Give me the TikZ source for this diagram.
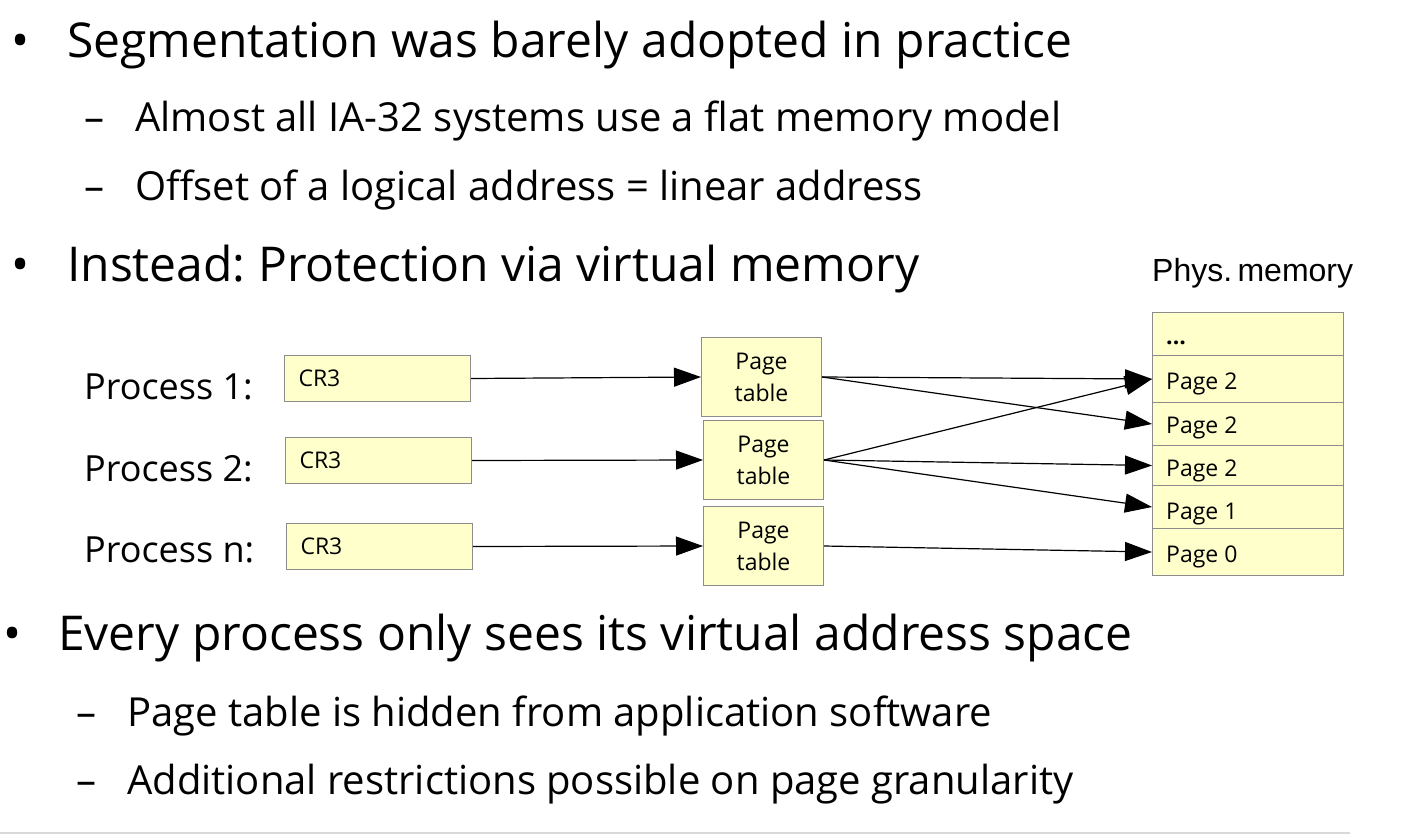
\documentclass[tikz,border=0pt]{standalone}
\usepackage{fontspec}
\setmainfont{Open Sans}
\newfontfamily\arialfont{Liberation Sans}
\usetikzlibrary{arrows.meta}
\definecolor{boxfill}{HTML}{FFFFCC}
\definecolor{boxline}{HTML}{8C8C8C}
\definecolor{rulegray}{HTML}{D9D9D9}
\frenchspacing
\tikzset{
  big/.style={font=\fontsize{48}{58}\selectfont, inner sep=0pt, anchor=base west},
  small/.style={font=\fontsize{40}{48}\selectfont, inner sep=0pt, anchor=base west},
  proc/.style={font=\fontsize{36}{42}\selectfont, inner sep=0pt, anchor=base west},
  ybox/.style={draw=boxline, fill=boxfill, line width=1pt, font=\fontsize{23}{32}\selectfont},
  crbox/.style={ybox, anchor=north west, minimum width=186pt, minimum height=46pt, text width=158pt, inner xsep=14pt, align=left},
  ptbox/.style={ybox, anchor=north west, minimum width=120pt, minimum height=79pt, align=center, inner sep=0pt},
  mem/.style={ybox, anchor=north west, minimum width=191pt, inner sep=0pt},
  memtext/.style={font=\fontsize{23}{32}\selectfont, inner sep=0pt, anchor=base west},
  arr/.style={-{Triangle[length=27pt,width=19pt]}, line width=1.2pt, black},
}
\begin{document}
\begin{tikzpicture}[x=1pt,y=-1pt]
\fill[white] (0,0) rectangle (1416,835);
\useasboundingbox (0,0) rectangle (1416,835);

% bullets text
\node[big] (b1) at (11,57) {•};
\node[big] (t1) at (67,57) {Segmentation was barely adopted in practice};
\node[small] (d1) at (84,131) {–};
\node[small] (t2) at (135,131) {Almost all IA-32 systems use a flat memory model};
\node[small] (d2) at (84,200) {–};
\node[small] (t3) at (135,200) {Offset of a logical address = linear address};
\node[big] (b2) at (11,281) {•};
\node[big] (t4) at (67,281) {Instead: Protection via virtual memory};
\node[big] (b3) at (3,650) {•};
\node[big] (t5) at (58,650) {Every process only sees its virtual address space};
\node[small] (d3) at (76,726) {–};
\node[small] (t6) at (127,726) {Page table is hidden from application software};
\node[small] (d4) at (76,794) {–};
\node[small] (t7) at (127,794) {Additional restrictions possible on page granularity};

% phys memory label
\node[font=\arialfont\fontsize{32}{36}\selectfont, inner sep=0pt, anchor=base west] (pm) at (1152,281) {Phys.\,memory};

% process labels
\node[proc] (p1) at (84,399) {Process 1:};
\node[proc] (p2) at (84,481) {Process 2:};
\node[proc] (pn) at (84,562) {Process n:};

% CR3 boxes
\node[crbox] (c1) at (284,355) {CR3};
\node[crbox] (c2) at (285,437) {CR3};
\node[crbox] (c3) at (286,523) {CR3};

% page tables
\node[ptbox] (pt1) at (701,337) {Page\\table};
\node[ptbox] (pt2) at (703,420) {Page\\table};
\node[ptbox] (pt3) at (703,506) {Page\\table};

% physical memory rows
\node[mem, minimum height=43pt] (m0) at (1152,312) {};
\node[mem, minimum height=47pt] (m1) at (1152,355) {};
\node[mem, minimum height=43pt] (m2) at (1152,402) {};
\node[mem, minimum height=40pt] (m3) at (1152,445) {};
\node[mem, minimum height=43pt] (m4) at (1152,485) {};
\node[mem, minimum height=47pt] (m5) at (1152,528) {};
\node[memtext] (m0t) at (1166,344) {\textbf{...}};
\node[memtext] (m1t) at (1166,389) {Page 2};
\node[memtext] (m2t) at (1166,433) {Page 2};
\node[memtext] (m3t) at (1166,476) {Page 2};
\node[memtext] (m4t) at (1166,519) {Page 1};
\node[memtext] (m5t) at (1166,562) {Page 0};

% arrows
\draw[arr] (c1.east) -- (pt1.west);
\draw[arr] (c2.east) -- (pt2.west);
\draw[arr] (c3.east) -- (pt3.west);
\draw[arr] (pt1.east) -- (m1.west);
\draw[arr] (pt1.east) -- (m2.west);
\draw[arr] (pt2.east) -- (m1.west);
\draw[arr] (pt2.east) -- (m3.west);
\draw[arr] (pt2.east) -- (m4.west);
\draw[arr] (pt3.east) -- (m5.west);

% bottom rule
\coordinate (r0) at (0,833);
\coordinate (r1) at (1350,833);
\draw[rulegray, line width=2pt] (r0) -- (r1);
\end{tikzpicture}
\end{document}
